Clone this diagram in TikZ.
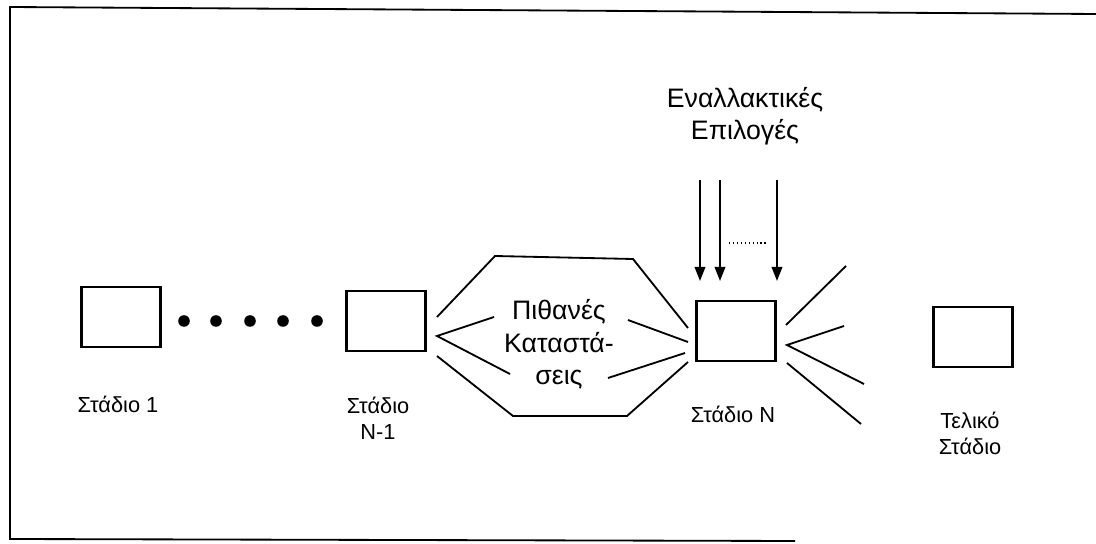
\documentclass[tikz,border=0pt]{standalone}
\usepackage{fontspec}
\setmainfont{Liberation Sans}
\usepackage{tikz}
\usetikzlibrary{arrows.meta}

\begin{document}
\begin{tikzpicture}[
    x=0.25mm, y=-0.25mm,
    % boxes, lines and texts
    stage/.style={rectangle, draw, line width=2pt, minimum width=19.8mm, minimum height=15mm, inner sep=0pt},
    link/.style={draw, line width=1.3pt},
    choice/.style={-{Triangle[length=10pt,width=7.5pt]}, line width=1.3pt},
    lbl/.style={font=\fontsize{15.5}{19}\selectfont, align=center, anchor=base, inner sep=0pt},
    big/.style={font=\fontsize{19}{23.2}\selectfont, align=center, anchor=base, inner sep=0pt},
]
\useasboundingbox (0,0) rectangle (1096,544);

% -------------------------
% Frame
% -------------------------
\draw[line width=1.3pt] (1096,14) -- (10,7) -- (10,539) -- (795,541);

% -------------------------
% Stages
% -------------------------
\node[stage] (stage1)    at (121,317) {};
\node[stage] (stagePrev) at (386,321) {};
\node[stage] (stageN)    at (736,331) {};
\node[stage] (stageEnd)  at (973,337) {};

\node[lbl] (lab1)    at (118,413) {Στάδιο 1};
\node[lbl] (labPrev) at (378,440) {Στάδιο\\N-1};
\node[lbl] (labN)    at (733,423) {Στάδιο N};
\node[lbl] (labEnd)  at (970,455) {Τελικό\\Στάδιο};

\foreach \x in {184,216,250,283,317}{
  \fill (\x,321) circle[radius=1.45mm];
}

% -------------------------
% Possible states between N-1 and N
% -------------------------
\node[big] (states) at (559,385) {Πιθανές\\Καταστά-\\σεις};

\coordinate (pA)  at (437,317);
\coordinate (pB)  at (437,336);
\coordinate (pC)  at (437,356);
\coordinate (hTL) at (495,256);
\coordinate (hTR) at (633,259);
\coordinate (hBL) at (513,416);
\coordinate (hBR) at (627,416);
\coordinate (qA)  at (688,328);
\coordinate (qB)  at (688,342);
\coordinate (qC)  at (685,353);
\coordinate (qD)  at (688,362);
\coordinate (iLU) at (494,317);
\coordinate (iLD) at (510,374);
\coordinate (iRU) at (628,320);
\coordinate (iRD) at (608,378);

\draw[link] (pA) -- (hTL) -- (hTR) -- (qA);
\draw[link] (pC) -- (hBL) -- (hBR) -- (qD);
\draw[link] (iLU) -- (pB) -- (iLD);
\draw[link] (iRU) -- (qB);
\draw[link] (iRD) -- (qC);

% -------------------------
% Outgoing fan of stage N
% -------------------------
\coordinate (fA) at (786,325);
\coordinate (fB) at (787,345);
\coordinate (fC) at (787,363);
\coordinate (oA) at (846,266);
\coordinate (oB) at (844,326);
\coordinate (oC) at (864,384);
\coordinate (oD) at (861,424);

\draw[link] (fA) -- (oA);
\draw[link] (oB) -- (fB) -- (oC);
\draw[link] (fC) -- (oD);

% -------------------------
% Alternative choices into stage N
% -------------------------
\node[big] (choices) at (745,140) {Εναλλακτικές\\Επιλογές};

\foreach \x [count=\i] in {700,720,777}{
  \coordinate (in\i)  at (\x,180);
  \coordinate (tip\i) at (\x,281);
  \draw[choice] (in\i) -- (tip\i);
}
\draw[dotted, line width=0.8pt] (729,243) -- (766,243);

\end{tikzpicture}
\end{document}
